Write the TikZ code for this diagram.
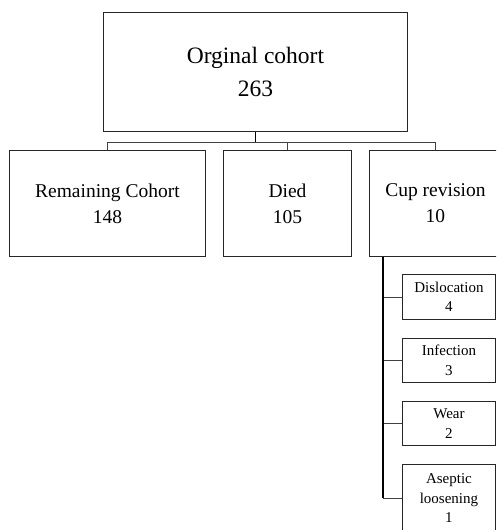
\documentclass[tikz,border=0pt]{standalone}
\usepackage{fontspec}
\setmainfont{Liberation Serif}
\usetikzlibrary{calc}
\begin{document}
\begin{tikzpicture}[x=1pt,y=-1pt,
  box/.style={draw=black!85,line width=0.9pt,inner sep=0pt,align=center,anchor=north west},
  bigfont/.style={font=\fontsize{23.5}{33}\selectfont},
  midfont/.style={font=\fontsize{19.5}{26}\selectfont},
  smallfont/.style={font=\fontsize{15}{19.5}\selectfont},
  stem/.style={draw=black,line width=1.5pt},
  thin/.style={draw=black!75,line width=0.8pt}]
\clip (0,0) rectangle (496,530);
\node[box,bigfont,minimum width=304pt,minimum height=119pt] (top) at (103,12) {Orginal cohort\\263};
\node[box,midfont,minimum width=196pt,minimum height=106pt] (rem) at (9,150) {Remaining Cohort\\148};
\node[box,midfont,minimum width=128pt,minimum height=106pt] (died) at (223,150) {Died\\105};
\node[box,midfont,minimum width=132pt,minimum height=106pt] (cup) at (369,150) {Cup revision\\10};
\node[box,smallfont,minimum width=93pt,minimum height=45pt] (dis) at (402,274) {Dislocation\\4};
\node[box,smallfont,minimum width=93pt,minimum height=44pt] (inf) at (402,338) {Infection\\3};
\node[box,smallfont,minimum width=93pt,minimum height=44pt] (wear) at (402,401) {Wear\\2};
\node[box,smallfont,minimum width=93pt,minimum height=68pt] (asep) at (402,464) {Aseptic\\loosening\\1};
% top tree
\coordinate (bus) at ($(top.south)+(0,10)$);
\draw[thin] (rem.north) -- (rem.north |- bus) -- (cup.north |- bus) -- (cup.north);
\draw[thin] (died.north |- bus) -- (died.north);
\draw[stem] (top.south) -- (bus);
% cup revision branches
\coordinate (v) at ([xshift=14pt]cup.south west);
\draw[thin] (v |- dis.west) -- (dis.west);
\draw[thin] (v |- inf.west) -- (inf.west);
\draw[thin] (v |- wear.west) -- (wear.west);
\draw[thin] (v |- asep.west) -- (asep.west);
\draw[stem] (v) -- (v |- asep.west);
\end{tikzpicture}
\end{document}
